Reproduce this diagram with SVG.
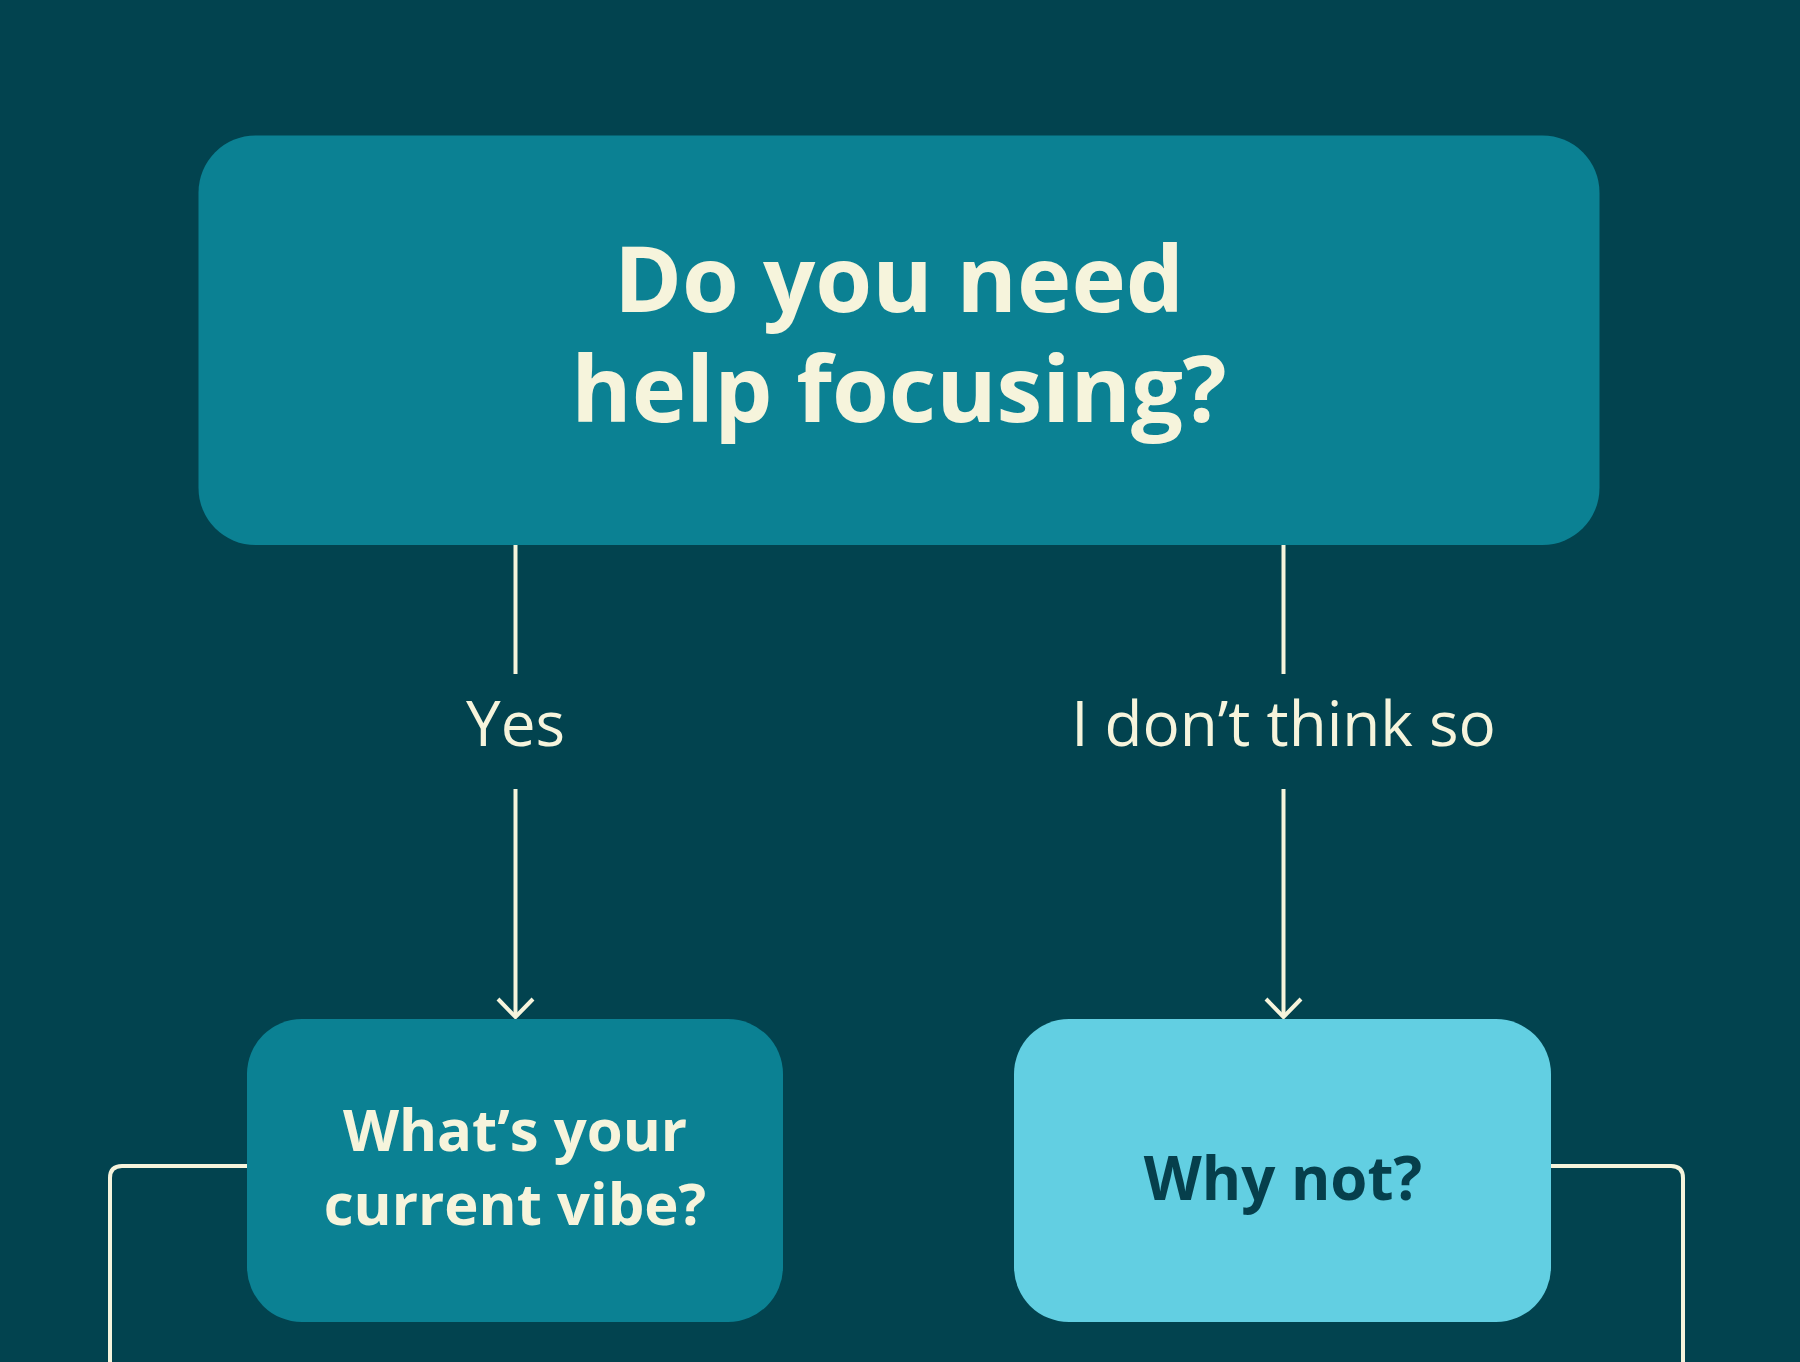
<svg xmlns="http://www.w3.org/2000/svg" width="1800" height="1362" viewBox="0 0 1800 1362">
<defs>
<style>
.t{font-family:"Open Sans","Liberation Sans",sans-serif;font-weight:700;fill:#f6f4dc;text-anchor:middle}
.l{font-family:"Open Sans","Liberation Sans",sans-serif;font-weight:400;fill:#f6f4dc;text-anchor:middle;font-size:62px}
.c{stroke:#f6f4dc;stroke-width:4;fill:none}
</style>
</defs>
<rect width="1800" height="1362" fill="#02434f"/>
<g id="connectors">
<line class="c" x1="515.5" y1="545" x2="515.5" y2="674"/>
<path class="c" d="M515.5 789 V1017"/>
<path d="M498 999 L515.5 1017 L533 999" class="c"/>
<line class="c" x1="1283.5" y1="545" x2="1283.5" y2="674"/>
<path class="c" d="M1283.5 789 V1017"/>
<path d="M1266 999 L1283.5 1017 L1301 999" class="c"/>
<path class="c" d="M247 1166 H122 Q110 1166 110 1178 V1362"/>
<path class="c" d="M1551 1166 H1671 Q1683 1166 1683 1178 V1362"/>
<text class="l" x="515.5" y="746">Yes</text>
<text class="l" x="1283.5" y="746">I don’t think so</text>
</g>
<g id="top">
<rect x="198.5" y="135.5" width="1401" height="409.5" rx="57" fill="#0b8193"/>
<text class="t" font-size="92" x="899" y="312">Do you need</text>
<text class="t" font-size="92" x="899" y="422">help focusing?</text>
</g>
<g id="vibe">
<rect x="247" y="1019" width="536" height="303" rx="55" fill="#0b8193"/>
<text class="t" font-size="58" x="515" y="1151">What’s your</text>
<text class="t" font-size="58" x="515" y="1225">current vibe?</text>
</g>
<g id="whynot">
<rect x="1014" y="1019" width="537" height="303" rx="55" fill="#62cfe2"/>
<text class="t" font-size="60" x="1283" y="1200" style="fill:#063f4c">Why not?</text>
</g>
</svg>
